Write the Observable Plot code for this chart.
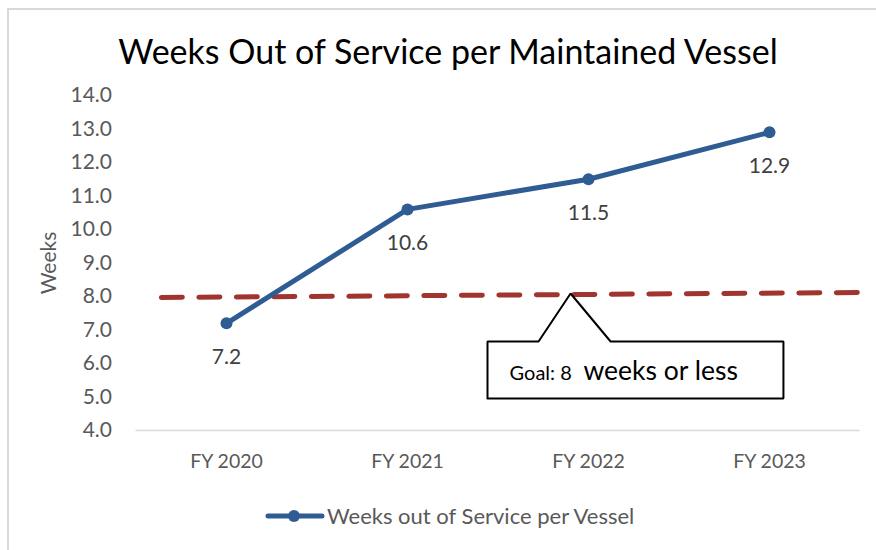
<!DOCTYPE html>
<html>
<head>
<meta charset="utf-8">
<script src="https://cdn.jsdelivr.net/npm/d3@7"></script>
<script src="https://cdn.jsdelivr.net/npm/@observablehq/plot@0.6"></script>
<style>
  html, body { margin: 0; padding: 0; background: #fff; }
  #wrap { position: relative; width: 876px; height: 550px; overflow: hidden; font-family: Lato, "Open Sans", sans-serif; }
  #frame { position: absolute; left: 7px; top: 8px; width: 900px; height: 600px; border-top: 2px solid #d9d9d9; border-left: 2px solid #d9d9d9; }
  #title { position: absolute; left: 0; width: 896px; top: 30px; text-align: center; font-size: 34px; color: #000; white-space: nowrap; }
  #legend { position: absolute; left: 265px; top: 502px; display: flex; align-items: center; font-size: 22px; color: #595959; white-space: nowrap; }
  #chart { position: absolute; left: 0; top: 0; }
</style>
</head>
<body>
<div id="wrap">
  <div id="frame"></div>
  <div id="chart"></div>
  <div id="title">Weeks Out of Service per Maintained Vessel</div>
  <div id="legend">
    <svg width="60" height="26" style="margin-right:2px"><line x1="3" x2="57" y1="13" y2="13" stroke="#2F5C93" stroke-width="5" stroke-linecap="round"/><circle cx="29" cy="13" r="6" fill="#2F5C93"/></svg>
    <span>Weeks out of Service per Vessel</span>
  </div>
</div>
<script>
// Data
const years = ["FY 2020", "FY 2021", "FY 2022", "FY 2023"];
const weeks = [7.2, 10.6, 11.5, 12.9];
const yTicks = [4, 5, 6, 7, 8, 9, 10, 11, 12, 13, 14];
// Goal line (hand-drawn in original, slightly sloped), in data units
const goalX = [-0.36, 3.49];
const goalY = [7.97, 8.12];
// Callout shape around goal text, in data units
const calloutX = [1.442, 1.442, 1.724, 1.901, 2.122, 3.077, 3.077, 1.442];
const calloutY = [4.955, 6.657, 6.657, 8.09, 6.657, 6.657, 4.955, 4.955];
const goalLabel1 = "Goal: 8";
const goalLabel2 = "weeks or less";

const data = years.map((y, i) => ({i, year: y, value: weeks[i]}));
const goal = goalX.map((x, i) => ({x, y: goalY[i]}));
const callout = calloutX.map((x, i) => ({x, y: calloutY[i]}));

const blue = "#2F5C93";
const red = "#A0342F";
const font = "Lato, 'Open Sans', sans-serif";

const chart = Plot.plot({
  width: 876,
  height: 550,
  marginLeft: 135.5,
  marginRight: 16.5,
  marginTop: 95,
  marginBottom: 120,
  style: {fontFamily: font, background: "transparent", overflow: "visible"},
  x: {domain: [-0.5, 3.5], axis: null},
  y: {domain: [4, 14], axis: null},
  marks: [
    Plot.ruleY([4], {stroke: "#d9d9d9", strokeWidth: 1.5}),
    Plot.axisY({ticks: yTicks, tickFormat: d => d.toFixed(1), tickSize: 0, tickPadding: 24, fontSize: 21, fill: "#595959", label: null}),
    Plot.axisX({ticks: [0, 1, 2, 3], tickFormat: i => years[i], tickSize: 0, tickPadding: 24, fontSize: 19.5, fill: "#595959", label: null}),
    Plot.text(["Weeks"], {frameAnchor: "left", rotate: -90, textAnchor: "middle", dx: -87, fontSize: 21, fill: "#595959"}),
    Plot.line(goal, {x: "x", y: "y", stroke: red, strokeWidth: 5, strokeDasharray: "21,16.5"}),
    Plot.line(callout, {x: "x", y: "y", stroke: "#000", strokeWidth: 2, fill: "#fff", strokeLinejoin: "miter"}),
    Plot.text([goalLabel1], {x: () => 1.564, y: () => 5.493, textAnchor: "start", lineAnchor: "bottom", fontSize: 20, fill: "#000"}),
    Plot.text([goalLabel2], {x: () => 1.972, y: () => 5.493, textAnchor: "start", lineAnchor: "bottom", fontSize: 26.5, fill: "#000"}),
    Plot.line(data, {x: "i", y: "value", stroke: blue, strokeWidth: 5}),
    Plot.dot(data, {x: "i", y: "value", r: 6, fill: blue, stroke: null}),
    Plot.text(data, {x: "i", y: "value", text: d => d.value.toFixed(1), dy: 34, fontSize: 21, fill: "#404040"})
  ]
});
document.getElementById("chart").appendChild(chart);
</script>
</body>
</html>
